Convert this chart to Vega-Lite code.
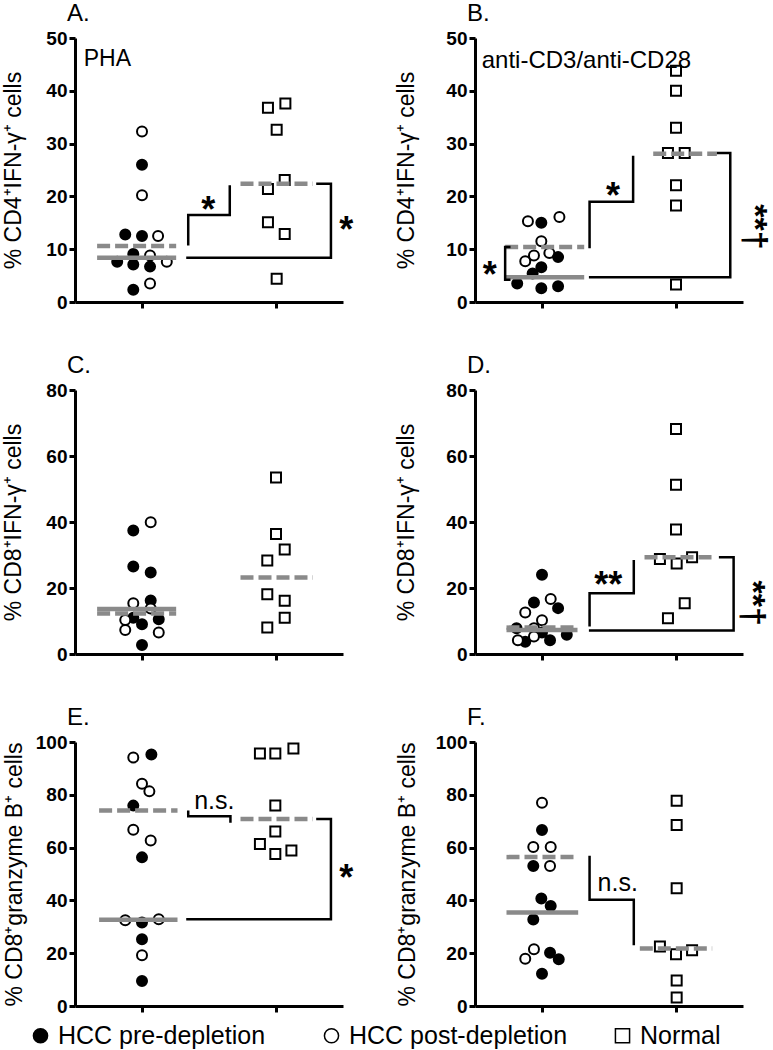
{
"$schema": "https://vega.github.io/schema/vega-lite/v6.json",
"padding": {"left": 2, "top": 2, "right": 12, "bottom": 0},
"background": "white",
"datasets": {"d": [
{"p":"A","k":"pt","g":"HCC pre-depletion","x":1.0,"y":26.0},
{"p":"A","k":"pt","g":"HCC pre-depletion","x":0.75,"y":12.8},
{"p":"A","k":"pt","g":"HCC pre-depletion","x":1.0,"y":12.5},
{"p":"A","k":"pt","g":"HCC pre-depletion","x":0.87,"y":9.1},
{"p":"A","k":"pt","g":"HCC pre-depletion","x":0.63,"y":7.6},
{"p":"A","k":"pt","g":"HCC pre-depletion","x":0.87,"y":7.1},
{"p":"A","k":"pt","g":"HCC pre-depletion","x":1.12,"y":6.7},
{"p":"A","k":"pt","g":"HCC pre-depletion","x":0.87,"y":2.3},
{"p":"A","k":"pt","g":"HCC post-depletion","x":1.0,"y":32.3},
{"p":"A","k":"pt","g":"HCC post-depletion","x":1.0,"y":20.2},
{"p":"A","k":"pt","g":"HCC post-depletion","x":1.24,"y":12.5},
{"p":"A","k":"pt","g":"HCC post-depletion","x":1.12,"y":8.8},
{"p":"A","k":"pt","g":"HCC post-depletion","x":1.37,"y":7.6},
{"p":"A","k":"pt","g":"HCC post-depletion","x":1.12,"y":3.5},
{"p":"A","k":"pt","g":"Normal","x":2.88,"y":36.8},
{"p":"A","k":"pt","g":"Normal","x":3.14,"y":37.6},
{"p":"A","k":"pt","g":"Normal","x":3.01,"y":32.6},
{"p":"A","k":"pt","g":"Normal","x":3.13,"y":23.1},
{"p":"A","k":"pt","g":"Normal","x":2.88,"y":21.4},
{"p":"A","k":"pt","g":"Normal","x":2.88,"y":15.1},
{"p":"A","k":"pt","g":"Normal","x":3.13,"y":12.9},
{"p":"A","k":"pt","g":"Normal","x":3.01,"y":4.4},
{"p":"A","k":"md","s":"pre","x":0.33,"x2":1.51,"y":8.4},
{"p":"A","k":"md","s":"post","x":0.33,"x2":1.51,"y":10.6},
{"p":"A","k":"md","s":"normal","x":2.47,"x2":3.55,"y":22.4},
{"p":"A","k":"br","id":"A1","i":0,"x":1.69,"y":10.7},
{"p":"A","k":"br","id":"A1","i":1,"x":1.69,"y":16.5},
{"p":"A","k":"br","id":"A1","i":2,"x":2.31,"y":16.5},
{"p":"A","k":"br","id":"A1","i":3,"x":2.31,"y":22.1},
{"p":"A","k":"br","id":"A2","i":0,"x":1.66,"y":8.4},
{"p":"A","k":"br","id":"A2","i":1,"x":3.82,"y":8.4},
{"p":"A","k":"br","id":"A2","i":2,"x":3.82,"y":22.4},
{"p":"A","k":"br","id":"A2","i":3,"x":3.6,"y":22.4},
{"p":"A","k":"st","t":"*","x":1.99,"y":19.2},
{"p":"A","k":"st","t":"*","x":4.05,"y":15.4},
{"p":"A","k":"lb","t":"PHA","x":0.13,"y":46},

{"p":"B","k":"pt","g":"HCC post-depletion","x":0.79,"y":15.3},
{"p":"B","k":"pt","g":"HCC post-depletion","x":1.26,"y":16.1},
{"p":"B","k":"pt","g":"HCC post-depletion","x":0.99,"y":11.5},
{"p":"B","k":"pt","g":"HCC post-depletion","x":0.75,"y":7.7},
{"p":"B","k":"pt","g":"HCC post-depletion","x":0.88,"y":8.8},
{"p":"B","k":"pt","g":"HCC post-depletion","x":1.11,"y":9.3},
{"p":"B","k":"pt","g":"HCC pre-depletion","x":0.99,"y":15.0},
{"p":"B","k":"pt","g":"HCC pre-depletion","x":1.24,"y":8.5},
{"p":"B","k":"pt","g":"HCC pre-depletion","x":0.99,"y":6.6},
{"p":"B","k":"pt","g":"HCC pre-depletion","x":0.86,"y":5.4},
{"p":"B","k":"pt","g":"HCC pre-depletion","x":0.63,"y":3.5},
{"p":"B","k":"pt","g":"HCC pre-depletion","x":0.99,"y":2.6},
{"p":"B","k":"pt","g":"HCC pre-depletion","x":1.24,"y":3.0},
{"p":"B","k":"pt","g":"Normal","x":3.0,"y":43.8},
{"p":"B","k":"pt","g":"Normal","x":3.0,"y":40.0},
{"p":"B","k":"pt","g":"Normal","x":3.0,"y":33.0},
{"p":"B","k":"pt","g":"Normal","x":2.88,"y":28.2},
{"p":"B","k":"pt","g":"Normal","x":3.13,"y":28.2},
{"p":"B","k":"pt","g":"Normal","x":3.0,"y":22.1},
{"p":"B","k":"pt","g":"Normal","x":3.0,"y":18.3},
{"p":"B","k":"pt","g":"Normal","x":3.0,"y":3.3},
{"p":"B","k":"md","s":"pre","x":0.45,"x2":1.63,"y":4.7},
{"p":"B","k":"md","s":"post","x":0.45,"x2":1.63,"y":10.4},
{"p":"B","k":"md","s":"normal","x":2.66,"x2":3.61,"y":28.1},
{"p":"B","k":"br","id":"B1","i":0,"x":0.53,"y":10.4},
{"p":"B","k":"br","id":"B1","i":1,"x":0.45,"y":10.4},
{"p":"B","k":"br","id":"B1","i":2,"x":0.45,"y":4.2},
{"p":"B","k":"br","id":"B1","i":3,"x":0.53,"y":4.2},
{"p":"B","k":"br","id":"B2","i":0,"x":1.71,"y":10.2},
{"p":"B","k":"br","id":"B2","i":1,"x":1.71,"y":19.0},
{"p":"B","k":"br","id":"B2","i":2,"x":2.36,"y":19.0},
{"p":"B","k":"br","id":"B2","i":3,"x":2.36,"y":27.7},
{"p":"B","k":"br","id":"B3","i":0,"x":1.70,"y":4.7},
{"p":"B","k":"br","id":"B3","i":1,"x":3.81,"y":4.7},
{"p":"B","k":"br","id":"B3","i":2,"x":3.81,"y":28.2},
{"p":"B","k":"br","id":"B3","i":3,"x":3.61,"y":28.2},
{"p":"B","k":"st","t":"*","x":0.22,"y":6.9},
{"p":"B","k":"st","t":"*","x":2.06,"y":21.8},
{"p":"B","k":"rt","t":"**†","x":4.3,"y":14.2},
{"p":"B","k":"lb","t":"anti-CD3/anti-CD28","x":0.1,"y":45.7},

{"p":"C","k":"pt","g":"HCC pre-depletion","x":0.87,"y":37.4},
{"p":"C","k":"pt","g":"HCC pre-depletion","x":0.87,"y":26.5},
{"p":"C","k":"pt","g":"HCC pre-depletion","x":1.13,"y":24.7},
{"p":"C","k":"pt","g":"HCC pre-depletion","x":1.13,"y":16.2},
{"p":"C","k":"pt","g":"HCC pre-depletion","x":0.87,"y":11.0},
{"p":"C","k":"pt","g":"HCC pre-depletion","x":1.0,"y":9.0},
{"p":"C","k":"pt","g":"HCC pre-depletion","x":1.25,"y":10.5},
{"p":"C","k":"pt","g":"HCC pre-depletion","x":1.0,"y":2.7},
{"p":"C","k":"pt","g":"HCC post-depletion","x":1.13,"y":39.9},
{"p":"C","k":"pt","g":"HCC post-depletion","x":0.87,"y":15.4},
{"p":"C","k":"pt","g":"HCC post-depletion","x":1.13,"y":13.8},
{"p":"C","k":"pt","g":"HCC post-depletion","x":0.75,"y":10.3},
{"p":"C","k":"pt","g":"HCC post-depletion","x":0.75,"y":7.3},
{"p":"C","k":"pt","g":"HCC post-depletion","x":1.25,"y":6.5},
{"p":"C","k":"pt","g":"Normal","x":3.0,"y":53.5},
{"p":"C","k":"pt","g":"Normal","x":3.0,"y":36.4},
{"p":"C","k":"pt","g":"Normal","x":3.13,"y":31.7},
{"p":"C","k":"pt","g":"Normal","x":2.87,"y":28.3},
{"p":"C","k":"pt","g":"Normal","x":2.87,"y":18.1},
{"p":"C","k":"pt","g":"Normal","x":3.13,"y":16.1},
{"p":"C","k":"pt","g":"Normal","x":3.13,"y":11.0},
{"p":"C","k":"pt","g":"Normal","x":2.87,"y":8.0},
{"p":"C","k":"md","s":"pre","x":0.33,"x2":1.51,"y":13.6},
{"p":"C","k":"md","s":"post","x":0.33,"x2":1.51,"y":12.3},
{"p":"C","k":"md","s":"normal","x":2.47,"x2":3.55,"y":23.2},

{"p":"D","k":"pt","g":"HCC pre-depletion","x":1.0,"y":24.0},
{"p":"D","k":"pt","g":"HCC pre-depletion","x":0.88,"y":15.6},
{"p":"D","k":"pt","g":"HCC pre-depletion","x":1.24,"y":13.9},
{"p":"D","k":"pt","g":"HCC pre-depletion","x":0.62,"y":7.8},
{"p":"D","k":"pt","g":"HCC pre-depletion","x":1.37,"y":5.8},
{"p":"D","k":"pt","g":"HCC pre-depletion","x":0.75,"y":3.7},
{"p":"D","k":"pt","g":"HCC pre-depletion","x":1.12,"y":4.2},
{"p":"D","k":"pt","g":"HCC pre-depletion","x":1.0,"y":6.5},
{"p":"D","k":"pt","g":"HCC post-depletion","x":1.13,"y":16.7},
{"p":"D","k":"pt","g":"HCC post-depletion","x":0.75,"y":12.6},
{"p":"D","k":"pt","g":"HCC post-depletion","x":1.0,"y":10.2},
{"p":"D","k":"pt","g":"HCC post-depletion","x":0.88,"y":7.8},
{"p":"D","k":"pt","g":"HCC post-depletion","x":0.64,"y":4.2},
{"p":"D","k":"pt","g":"HCC post-depletion","x":0.88,"y":5.3},
{"p":"D","k":"pt","g":"Normal","x":3.0,"y":68.2},
{"p":"D","k":"pt","g":"Normal","x":3.0,"y":51.3},
{"p":"D","k":"pt","g":"Normal","x":3.0,"y":37.7},
{"p":"D","k":"pt","g":"Normal","x":2.76,"y":28.8},
{"p":"D","k":"pt","g":"Normal","x":3.01,"y":27.4},
{"p":"D","k":"pt","g":"Normal","x":3.24,"y":29.3},
{"p":"D","k":"pt","g":"Normal","x":3.13,"y":15.4},
{"p":"D","k":"pt","g":"Normal","x":2.88,"y":10.8},
{"p":"D","k":"md","s":"pre","x":0.47,"x2":1.53,"y":7.3},
{"p":"D","k":"md","s":"post","x":0.47,"x2":1.53,"y":8.0},
{"p":"D","k":"md","s":"normal","x":2.53,"x2":3.54,"y":29.3},
{"p":"D","k":"br","id":"D1","i":0,"x":1.71,"y":8.3},
{"p":"D","k":"br","id":"D1","i":1,"x":1.71,"y":18.4},
{"p":"D","k":"br","id":"D1","i":2,"x":2.37,"y":18.4},
{"p":"D","k":"br","id":"D1","i":3,"x":2.37,"y":28.5},
{"p":"D","k":"br","id":"D2","i":0,"x":1.70,"y":7.1},
{"p":"D","k":"br","id":"D2","i":1,"x":3.86,"y":7.1},
{"p":"D","k":"br","id":"D2","i":2,"x":3.86,"y":29.3},
{"p":"D","k":"br","id":"D2","i":3,"x":3.64,"y":29.3},
{"p":"D","k":"st","t":"**","x":1.99,"y":23.5},
{"p":"D","k":"rt","t":"**†","x":4.27,"y":15.4},

{"p":"E","k":"pt","g":"HCC post-depletion","x":0.87,"y":94.1},
{"p":"E","k":"pt","g":"HCC post-depletion","x":1.0,"y":84.2},
{"p":"E","k":"pt","g":"HCC post-depletion","x":1.11,"y":81.3},
{"p":"E","k":"pt","g":"HCC post-depletion","x":0.87,"y":66.8},
{"p":"E","k":"pt","g":"HCC post-depletion","x":1.13,"y":62.7},
{"p":"E","k":"pt","g":"HCC post-depletion","x":1.0,"y":19.2},
{"p":"E","k":"pt","g":"HCC post-depletion","x":0.75,"y":32.5},
{"p":"E","k":"pt","g":"HCC post-depletion","x":1.25,"y":32.9},
{"p":"E","k":"pt","g":"HCC pre-depletion","x":1.14,"y":95.3},
{"p":"E","k":"pt","g":"HCC pre-depletion","x":0.87,"y":75.9},
{"p":"E","k":"pt","g":"HCC pre-depletion","x":1.0,"y":56.3},
{"p":"E","k":"pt","g":"HCC pre-depletion","x":1.0,"y":31.6},
{"p":"E","k":"pt","g":"HCC pre-depletion","x":1.0,"y":25.3},
{"p":"E","k":"pt","g":"HCC pre-depletion","x":1.0,"y":9.5},
{"p":"E","k":"pt","g":"Normal","x":2.76,"y":95.6},
{"p":"E","k":"pt","g":"Normal","x":2.99,"y":95.6},
{"p":"E","k":"pt","g":"Normal","x":3.26,"y":97.5},
{"p":"E","k":"pt","g":"Normal","x":2.99,"y":75.9},
{"p":"E","k":"pt","g":"Normal","x":2.99,"y":66.1},
{"p":"E","k":"pt","g":"Normal","x":2.76,"y":61.4},
{"p":"E","k":"pt","g":"Normal","x":2.99,"y":57.6},
{"p":"E","k":"pt","g":"Normal","x":3.23,"y":58.9},
{"p":"E","k":"md","s":"pre","x":0.36,"x2":1.53,"y":32.7},
{"p":"E","k":"md","s":"post","x":0.36,"x2":1.53,"y":74.1},
{"p":"E","k":"md","s":"normal","x":2.47,"x2":3.55,"y":70.8},
{"p":"E","k":"br","id":"E1","i":0,"x":1.69,"y":74.1},
{"p":"E","k":"br","id":"E1","i":1,"x":1.69,"y":71.9},
{"p":"E","k":"br","id":"E1","i":2,"x":2.32,"y":71.9},
{"p":"E","k":"br","id":"E1","i":3,"x":2.32,"y":69.4},
{"p":"E","k":"br","id":"E2","i":0,"x":1.66,"y":32.9},
{"p":"E","k":"br","id":"E2","i":1,"x":3.82,"y":32.9},
{"p":"E","k":"br","id":"E2","i":2,"x":3.82,"y":70.8},
{"p":"E","k":"br","id":"E2","i":3,"x":3.6,"y":70.8},
{"p":"E","k":"ns","t":"n.s.","x":2.08,"y":77.5},
{"p":"E","k":"st","t":"*","x":4.05,"y":51.9},

{"p":"F","k":"pt","g":"HCC post-depletion","x":1.0,"y":77.0},
{"p":"F","k":"pt","g":"HCC post-depletion","x":0.87,"y":60.2},
{"p":"F","k":"pt","g":"HCC post-depletion","x":1.13,"y":60.2},
{"p":"F","k":"pt","g":"HCC post-depletion","x":1.12,"y":53.0},
{"p":"F","k":"pt","g":"HCC post-depletion","x":0.88,"y":21.5},
{"p":"F","k":"pt","g":"HCC post-depletion","x":0.75,"y":17.9},
{"p":"F","k":"pt","g":"HCC pre-depletion","x":1.0,"y":66.7},
{"p":"F","k":"pt","g":"HCC pre-depletion","x":0.87,"y":53.0},
{"p":"F","k":"pt","g":"HCC pre-depletion","x":0.99,"y":40.7},
{"p":"F","k":"pt","g":"HCC pre-depletion","x":1.13,"y":37.9},
{"p":"F","k":"pt","g":"HCC pre-depletion","x":0.87,"y":32.8},
{"p":"F","k":"pt","g":"HCC pre-depletion","x":1.12,"y":20.2},
{"p":"F","k":"pt","g":"HCC pre-depletion","x":1.25,"y":17.7},
{"p":"F","k":"pt","g":"HCC pre-depletion","x":1.0,"y":12.2},
{"p":"F","k":"pt","g":"Normal","x":3.01,"y":77.7},
{"p":"F","k":"pt","g":"Normal","x":3.01,"y":68.6},
{"p":"F","k":"pt","g":"Normal","x":3.01,"y":44.6},
{"p":"F","k":"pt","g":"Normal","x":2.76,"y":22.5},
{"p":"F","k":"pt","g":"Normal","x":3.0,"y":19.6},
{"p":"F","k":"pt","g":"Normal","x":3.24,"y":21.1},
{"p":"F","k":"pt","g":"Normal","x":3.01,"y":9.7},
{"p":"F","k":"pt","g":"Normal","x":3.01,"y":3.2},
{"p":"F","k":"md","s":"pre","x":0.47,"x2":1.54,"y":35.4},
{"p":"F","k":"md","s":"post","x":0.47,"x2":1.54,"y":56.4},
{"p":"F","k":"md","s":"normal","x":2.46,"x2":3.54,"y":21.8},
{"p":"F","k":"br","id":"F1","i":0,"x":1.71,"y":56.9},
{"p":"F","k":"br","id":"F1","i":1,"x":1.71,"y":40.2},
{"p":"F","k":"br","id":"F1","i":2,"x":2.37,"y":40.2},
{"p":"F","k":"br","id":"F1","i":3,"x":2.37,"y":23.0},
{"p":"F","k":"ns","t":"n.s.","x":2.13,"y":46.5}
]},
"data": {"name": "d"},
"columns": 2,
"spacing": {"row": 88, "column": 132},
"bounds": "flush",
"resolve": {"scale": {"shape": "shared", "fill": "shared", "strokeDash": "shared"}},
"concat": [
{"title": "A.", "width": 268, "height": 264,
 "transform": [{"filter": "datum.p === 'A'"}],
 "encoding": {
  "x": {"field": "x", "type": "quantitative", "scale": {"domain": [0, 4]}, "axis": {"values": [1, 3], "labels": false, "title": null}},
  "y": {"field": "y", "type": "quantitative", "scale": {"domain": [0, 50]}, "axis": {"values": [0, 10, 20, 30, 40, 50], "title": "% CD4⁺IFN-γ⁺ cells", "titlePadding": 20}}
 },
 "layer": [
  {"transform": [{"filter": "datum.k === 'pt'"}], "mark": {"type": "point", "filled": true, "stroke": "black", "strokeWidth": 2, "size": 100, "opacity": 1},
   "encoding": {
    "shape": {"field": "g", "type": "nominal", "scale": {"domain": ["HCC pre-depletion", "HCC post-depletion", "Normal"], "range": ["circle", "circle", "square"]}, "legend": {"title": null, "orient": "none", "legendX": -47, "legendY": 985, "direction": "horizontal", "columns": 3, "gridAlign": "all", "columnPadding": 42, "labelFontSize": 25, "symbolSize": 200, "labelOffset": 5, "labelColor": "black", "labelFont": "Liberation Sans", "labelLimit": 400, "encode": {"symbols": {"update": {"stroke": {"value": "black"}, "strokeWidth": {"value": 2}, "opacity": {"value": 1}}}}}},
    "fill": {"field": "g", "type": "nominal", "scale": {"domain": ["HCC pre-depletion", "HCC post-depletion", "Normal"], "range": ["black", "white", "white"]}, "legend": {"title": null, "orient": "none", "legendX": -47, "legendY": 985, "direction": "horizontal", "columns": 3, "gridAlign": "all", "columnPadding": 42, "labelFontSize": 25, "symbolSize": 200, "labelOffset": 5, "labelColor": "black", "labelFont": "Liberation Sans", "labelLimit": 400, "encode": {"symbols": {"update": {"stroke": {"value": "black"}, "strokeWidth": {"value": 2}, "opacity": {"value": 1}}}}}}
   }},
  {"transform": [{"filter": "datum.k === 'md'"}], "mark": {"type": "rule", "stroke": "#8a8a8a", "strokeWidth": 4.5},
   "encoding": {"x2": {"field": "x2"}, "strokeDash": {"field": "s", "type": "nominal", "scale": {"domain": ["pre", "post", "normal"], "range": [[1, 0], [13, 5], [13, 5]]}, "legend": null}}},
  {"transform": [{"filter": "datum.k === 'br'"}], "mark": {"type": "line", "color": "black", "strokeWidth": 2.5, "strokeJoin": "miter"},
   "encoding": {"detail": {"field": "id"}, "order": {"field": "i", "type": "quantitative"}}},
  {"transform": [{"filter": "datum.k === 'st'"}], "mark": {"type": "text", "fontSize": 36, "fontWeight": "bold", "baseline": "middle", "align": "center", "dy": 10, "color": "black", "font": "Liberation Sans"}, "encoding": {"text": {"field": "t"}}},
  {"transform": [{"filter": "datum.k === 'lb'"}], "mark": {"type": "text", "fontSize": 23, "baseline": "middle", "align": "left", "color": "black", "font": "Liberation Sans"}, "encoding": {"text": {"field": "t"}}}
 ]},
{"title": "B.", "width": 268, "height": 264,
 "transform": [{"filter": "datum.p === 'B'"}],
 "encoding": {
  "x": {"field": "x", "type": "quantitative", "scale": {"domain": [0, 4]}, "axis": {"values": [1, 3], "labels": false, "title": null}},
  "y": {"field": "y", "type": "quantitative", "scale": {"domain": [0, 50]}, "axis": {"values": [0, 10, 20, 30, 40, 50], "title": "% CD4⁺IFN-γ⁺ cells", "titlePadding": 27}}
 },
 "layer": [
  {"transform": [{"filter": "datum.k === 'pt'"}], "mark": {"type": "point", "filled": true, "stroke": "black", "strokeWidth": 2, "size": 100, "opacity": 1},
   "encoding": {
    "shape": {"field": "g", "type": "nominal", "scale": {"domain": ["HCC pre-depletion", "HCC post-depletion", "Normal"], "range": ["circle", "circle", "square"]}, "legend": {"title": null, "orient": "none", "legendX": -47, "legendY": 985, "direction": "horizontal", "columns": 3, "gridAlign": "all", "columnPadding": 42, "labelFontSize": 25, "symbolSize": 200, "labelOffset": 5, "labelColor": "black", "labelFont": "Liberation Sans", "labelLimit": 400, "encode": {"symbols": {"update": {"stroke": {"value": "black"}, "strokeWidth": {"value": 2}, "opacity": {"value": 1}}}}}},
    "fill": {"field": "g", "type": "nominal", "scale": {"domain": ["HCC pre-depletion", "HCC post-depletion", "Normal"], "range": ["black", "white", "white"]}, "legend": {"title": null, "orient": "none", "legendX": -47, "legendY": 985, "direction": "horizontal", "columns": 3, "gridAlign": "all", "columnPadding": 42, "labelFontSize": 25, "symbolSize": 200, "labelOffset": 5, "labelColor": "black", "labelFont": "Liberation Sans", "labelLimit": 400, "encode": {"symbols": {"update": {"stroke": {"value": "black"}, "strokeWidth": {"value": 2}, "opacity": {"value": 1}}}}}}
   }},
  {"transform": [{"filter": "datum.k === 'md'"}], "mark": {"type": "rule", "stroke": "#8a8a8a", "strokeWidth": 4.5},
   "encoding": {"x2": {"field": "x2"}, "strokeDash": {"field": "s", "type": "nominal", "scale": {"domain": ["pre", "post", "normal"], "range": [[1, 0], [13, 5], [13, 5]]}, "legend": null}}},
  {"transform": [{"filter": "datum.k === 'br'"}], "mark": {"type": "line", "color": "black", "strokeWidth": 2.5, "strokeJoin": "miter"},
   "encoding": {"detail": {"field": "id"}, "order": {"field": "i", "type": "quantitative"}}},
  {"transform": [{"filter": "datum.k === 'st'"}], "mark": {"type": "text", "fontSize": 36, "fontWeight": "bold", "baseline": "middle", "align": "center", "dy": 10, "color": "black", "font": "Liberation Sans"}, "encoding": {"text": {"field": "t"}}},
  {"transform": [{"filter": "datum.k === 'rt'"}], "mark": {"type": "text", "fontSize": 34, "fontWeight": "bold", "baseline": "middle", "align": "center", "angle": 90, "dy": 9, "color": "black", "font": "Liberation Sans"}, "encoding": {"text": {"field": "t"}}},
  {"transform": [{"filter": "datum.k === 'lb'"}], "mark": {"type": "text", "fontSize": 24, "baseline": "middle", "align": "left", "color": "black", "font": "Liberation Sans"}, "encoding": {"text": {"field": "t"}}}
 ]},
{"title": "C.", "width": 268, "height": 264,
 "transform": [{"filter": "datum.p === 'C'"}],
 "encoding": {
  "x": {"field": "x", "type": "quantitative", "scale": {"domain": [0, 4]}, "axis": {"values": [1, 3], "labels": false, "title": null}},
  "y": {"field": "y", "type": "quantitative", "scale": {"domain": [0, 80]}, "axis": {"values": [0, 20, 40, 60, 80], "title": "% CD8⁺IFN-γ⁺ cells", "titlePadding": 20}}
 },
 "layer": [
  {"transform": [{"filter": "datum.k === 'pt'"}], "mark": {"type": "point", "filled": true, "stroke": "black", "strokeWidth": 2, "size": 100, "opacity": 1},
   "encoding": {
    "shape": {"field": "g", "type": "nominal", "scale": {"domain": ["HCC pre-depletion", "HCC post-depletion", "Normal"], "range": ["circle", "circle", "square"]}, "legend": {"title": null, "orient": "none", "legendX": -47, "legendY": 985, "direction": "horizontal", "columns": 3, "gridAlign": "all", "columnPadding": 42, "labelFontSize": 25, "symbolSize": 200, "labelOffset": 5, "labelColor": "black", "labelFont": "Liberation Sans", "labelLimit": 400, "encode": {"symbols": {"update": {"stroke": {"value": "black"}, "strokeWidth": {"value": 2}, "opacity": {"value": 1}}}}}},
    "fill": {"field": "g", "type": "nominal", "scale": {"domain": ["HCC pre-depletion", "HCC post-depletion", "Normal"], "range": ["black", "white", "white"]}, "legend": {"title": null, "orient": "none", "legendX": -47, "legendY": 985, "direction": "horizontal", "columns": 3, "gridAlign": "all", "columnPadding": 42, "labelFontSize": 25, "symbolSize": 200, "labelOffset": 5, "labelColor": "black", "labelFont": "Liberation Sans", "labelLimit": 400, "encode": {"symbols": {"update": {"stroke": {"value": "black"}, "strokeWidth": {"value": 2}, "opacity": {"value": 1}}}}}}
   }},
  {"transform": [{"filter": "datum.k === 'md'"}], "mark": {"type": "rule", "stroke": "#8a8a8a", "strokeWidth": 4.5},
   "encoding": {"x2": {"field": "x2"}, "strokeDash": {"field": "s", "type": "nominal", "scale": {"domain": ["pre", "post", "normal"], "range": [[1, 0], [13, 5], [13, 5]]}, "legend": null}}}
 ]},
{"title": "D.", "width": 268, "height": 264,
 "transform": [{"filter": "datum.p === 'D'"}],
 "encoding": {
  "x": {"field": "x", "type": "quantitative", "scale": {"domain": [0, 4]}, "axis": {"values": [1, 3], "labels": false, "title": null}},
  "y": {"field": "y", "type": "quantitative", "scale": {"domain": [0, 80]}, "axis": {"values": [0, 20, 40, 60, 80], "title": "% CD8⁺IFN-γ⁺ cells", "titlePadding": 27}}
 },
 "layer": [
  {"transform": [{"filter": "datum.k === 'pt'"}], "mark": {"type": "point", "filled": true, "stroke": "black", "strokeWidth": 2, "size": 100, "opacity": 1},
   "encoding": {
    "shape": {"field": "g", "type": "nominal", "scale": {"domain": ["HCC pre-depletion", "HCC post-depletion", "Normal"], "range": ["circle", "circle", "square"]}, "legend": {"title": null, "orient": "none", "legendX": -47, "legendY": 985, "direction": "horizontal", "columns": 3, "gridAlign": "all", "columnPadding": 42, "labelFontSize": 25, "symbolSize": 200, "labelOffset": 5, "labelColor": "black", "labelFont": "Liberation Sans", "labelLimit": 400, "encode": {"symbols": {"update": {"stroke": {"value": "black"}, "strokeWidth": {"value": 2}, "opacity": {"value": 1}}}}}},
    "fill": {"field": "g", "type": "nominal", "scale": {"domain": ["HCC pre-depletion", "HCC post-depletion", "Normal"], "range": ["black", "white", "white"]}, "legend": {"title": null, "orient": "none", "legendX": -47, "legendY": 985, "direction": "horizontal", "columns": 3, "gridAlign": "all", "columnPadding": 42, "labelFontSize": 25, "symbolSize": 200, "labelOffset": 5, "labelColor": "black", "labelFont": "Liberation Sans", "labelLimit": 400, "encode": {"symbols": {"update": {"stroke": {"value": "black"}, "strokeWidth": {"value": 2}, "opacity": {"value": 1}}}}}}
   }},
  {"transform": [{"filter": "datum.k === 'md'"}], "mark": {"type": "rule", "stroke": "#8a8a8a", "strokeWidth": 4.5},
   "encoding": {"x2": {"field": "x2"}, "strokeDash": {"field": "s", "type": "nominal", "scale": {"domain": ["pre", "post", "normal"], "range": [[1, 0], [13, 5], [13, 5]]}, "legend": null}}},
  {"transform": [{"filter": "datum.k === 'br'"}], "mark": {"type": "line", "color": "black", "strokeWidth": 2.5, "strokeJoin": "miter"},
   "encoding": {"detail": {"field": "id"}, "order": {"field": "i", "type": "quantitative"}}},
  {"transform": [{"filter": "datum.k === 'st'"}], "mark": {"type": "text", "fontSize": 36, "fontWeight": "bold", "baseline": "middle", "align": "center", "dy": 10, "color": "black", "font": "Liberation Sans"}, "encoding": {"text": {"field": "t"}}},
  {"transform": [{"filter": "datum.k === 'rt'"}], "mark": {"type": "text", "fontSize": 34, "fontWeight": "bold", "baseline": "middle", "align": "center", "angle": 90, "dy": 9, "color": "black", "font": "Liberation Sans"}, "encoding": {"text": {"field": "t"}}}
 ]},
{"title": "E.", "width": 268, "height": 264,
 "transform": [{"filter": "datum.p === 'E'"}],
 "encoding": {
  "x": {"field": "x", "type": "quantitative", "scale": {"domain": [0, 4]}, "axis": {"values": [1, 3], "labels": false, "title": null}},
  "y": {"field": "y", "type": "quantitative", "scale": {"domain": [0, 100]}, "axis": {"values": [0, 20, 40, 60, 80, 100], "title": "% CD8⁺granzyme B⁺ cells", "titlePadding": 9}}
 },
 "layer": [
  {"transform": [{"filter": "datum.k === 'pt'"}], "mark": {"type": "point", "filled": true, "stroke": "black", "strokeWidth": 2, "size": 100, "opacity": 1},
   "encoding": {
    "shape": {"field": "g", "type": "nominal", "scale": {"domain": ["HCC pre-depletion", "HCC post-depletion", "Normal"], "range": ["circle", "circle", "square"]}, "legend": {"title": null, "orient": "none", "legendX": -47, "legendY": 985, "direction": "horizontal", "columns": 3, "gridAlign": "all", "columnPadding": 42, "labelFontSize": 25, "symbolSize": 200, "labelOffset": 5, "labelColor": "black", "labelFont": "Liberation Sans", "labelLimit": 400, "encode": {"symbols": {"update": {"stroke": {"value": "black"}, "strokeWidth": {"value": 2}, "opacity": {"value": 1}}}}}},
    "fill": {"field": "g", "type": "nominal", "scale": {"domain": ["HCC pre-depletion", "HCC post-depletion", "Normal"], "range": ["black", "white", "white"]}, "legend": {"title": null, "orient": "none", "legendX": -47, "legendY": 985, "direction": "horizontal", "columns": 3, "gridAlign": "all", "columnPadding": 42, "labelFontSize": 25, "symbolSize": 200, "labelOffset": 5, "labelColor": "black", "labelFont": "Liberation Sans", "labelLimit": 400, "encode": {"symbols": {"update": {"stroke": {"value": "black"}, "strokeWidth": {"value": 2}, "opacity": {"value": 1}}}}}}
   }},
  {"transform": [{"filter": "datum.k === 'md'"}], "mark": {"type": "rule", "stroke": "#8a8a8a", "strokeWidth": 4.5},
   "encoding": {"x2": {"field": "x2"}, "strokeDash": {"field": "s", "type": "nominal", "scale": {"domain": ["pre", "post", "normal"], "range": [[1, 0], [13, 5], [13, 5]]}, "legend": null}}},
  {"transform": [{"filter": "datum.k === 'br'"}], "mark": {"type": "line", "color": "black", "strokeWidth": 2.5, "strokeJoin": "miter"},
   "encoding": {"detail": {"field": "id"}, "order": {"field": "i", "type": "quantitative"}}},
  {"transform": [{"filter": "datum.k === 'st'"}], "mark": {"type": "text", "fontSize": 36, "fontWeight": "bold", "baseline": "middle", "align": "center", "dy": 10, "color": "black", "font": "Liberation Sans"}, "encoding": {"text": {"field": "t"}}},
  {"transform": [{"filter": "datum.k === 'ns'"}], "mark": {"type": "text", "fontSize": 25, "baseline": "middle", "align": "center", "color": "black", "font": "Liberation Sans"}, "encoding": {"text": {"field": "t"}}}
 ]},
{"title": "F.", "width": 268, "height": 264,
 "transform": [{"filter": "datum.p === 'F'"}],
 "encoding": {
  "x": {"field": "x", "type": "quantitative", "scale": {"domain": [0, 4]}, "axis": {"values": [1, 3], "labels": false, "title": null}},
  "y": {"field": "y", "type": "quantitative", "scale": {"domain": [0, 100]}, "axis": {"values": [0, 20, 40, 60, 80, 100], "title": "% CD8⁺granzyme B⁺ cells", "titlePadding": 16}}
 },
 "layer": [
  {"transform": [{"filter": "datum.k === 'pt'"}], "mark": {"type": "point", "filled": true, "stroke": "black", "strokeWidth": 2, "size": 100, "opacity": 1},
   "encoding": {
    "shape": {"field": "g", "type": "nominal", "scale": {"domain": ["HCC pre-depletion", "HCC post-depletion", "Normal"], "range": ["circle", "circle", "square"]}, "legend": {"title": null, "orient": "none", "legendX": -47, "legendY": 985, "direction": "horizontal", "columns": 3, "gridAlign": "all", "columnPadding": 42, "labelFontSize": 25, "symbolSize": 200, "labelOffset": 5, "labelColor": "black", "labelFont": "Liberation Sans", "labelLimit": 400, "encode": {"symbols": {"update": {"stroke": {"value": "black"}, "strokeWidth": {"value": 2}, "opacity": {"value": 1}}}}}},
    "fill": {"field": "g", "type": "nominal", "scale": {"domain": ["HCC pre-depletion", "HCC post-depletion", "Normal"], "range": ["black", "white", "white"]}, "legend": {"title": null, "orient": "none", "legendX": -47, "legendY": 985, "direction": "horizontal", "columns": 3, "gridAlign": "all", "columnPadding": 42, "labelFontSize": 25, "symbolSize": 200, "labelOffset": 5, "labelColor": "black", "labelFont": "Liberation Sans", "labelLimit": 400, "encode": {"symbols": {"update": {"stroke": {"value": "black"}, "strokeWidth": {"value": 2}, "opacity": {"value": 1}}}}}}
   }},
  {"transform": [{"filter": "datum.k === 'md'"}], "mark": {"type": "rule", "stroke": "#8a8a8a", "strokeWidth": 4.5},
   "encoding": {"x2": {"field": "x2"}, "strokeDash": {"field": "s", "type": "nominal", "scale": {"domain": ["pre", "post", "normal"], "range": [[1, 0], [13, 5], [13, 5]]}, "legend": null}}},
  {"transform": [{"filter": "datum.k === 'br'"}], "mark": {"type": "line", "color": "black", "strokeWidth": 2.5, "strokeJoin": "miter"},
   "encoding": {"detail": {"field": "id"}, "order": {"field": "i", "type": "quantitative"}}},
  {"transform": [{"filter": "datum.k === 'ns'"}], "mark": {"type": "text", "fontSize": 25, "baseline": "middle", "align": "center", "color": "black", "font": "Liberation Sans"}, "encoding": {"text": {"field": "t"}}}
 ]}
],
"config": {
 "view": {"stroke": null},
 "font": "Liberation Sans",
 "axis": {"domainColor": "black", "domainWidth": 3, "tickColor": "black", "tickWidth": 3, "tickSize": 6, "grid": false, "labelFont": "Liberation Sans", "labelFontSize": 19, "labelFontWeight": "bold", "labelColor": "black", "labelPadding": 2, "titleFont": "Liberation Sans", "titleFontSize": 23, "titleFontWeight": "normal", "titleColor": "black"},
 "title": {"anchor": "start", "frame": "group", "fontSize": 24, "fontWeight": "normal", "color": "black", "dx": -8, "offset": 3, "font": "Liberation Sans"}
}
}
